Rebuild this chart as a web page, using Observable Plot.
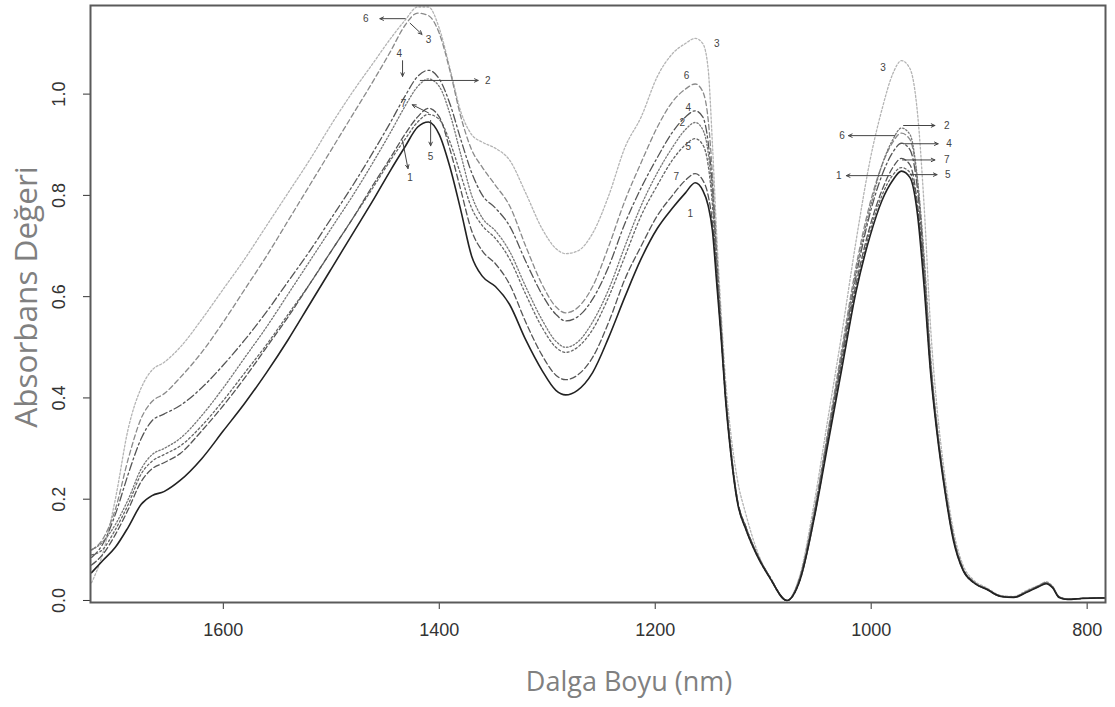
<!DOCTYPE html>
<html><head><meta charset="utf-8">
<script src="https://cdn.jsdelivr.net/npm/d3@7"></script>
<script src="https://cdn.jsdelivr.net/npm/@observablehq/plot@0.6"></script>
<style>
html,body{margin:0;padding:0;background:#fff;}
#chart{width:1115px;height:707px;overflow:hidden}
</style></head><body><div id="chart"></div>
<script>
// Wavelength grid (nm)
const wavelength = [
1722,1712,1700,1688,1676,1666,1655,1640,1620,1600,
1580,1560,1540,1520,1500,1480,1460,1445,1432,1420,
1410,1400,1390,1380,1370,1360,1348,1335,1320,1305,
1292,1283,1272,1258,1243,1228,1213,1198,1184,1172,
1163,1156,1151,1147,1143,1139,1135,1130,1124,1116,
1106,1094,1078,1066,1053,1040,1027,1014,1001,990,
980,972,964,957,951,945,939,932,924,915,
905,893,880,868,856,845,838,832,826,818,
805,790,783];

const series1 = [
0.055,0.078,0.105,0.145,0.19,0.207,0.215,0.237,0.28,0.335,
0.39,0.45,0.515,0.585,0.655,0.725,0.795,0.85,0.895,0.935,
0.945,0.92,0.855,0.77,0.68,0.64,0.62,0.585,0.515,0.455,
0.415,0.406,0.415,0.45,0.52,0.60,0.675,0.735,0.775,0.805,
0.825,0.81,0.78,0.73,0.625,0.52,0.40,0.29,0.195,0.14,
0.09,0.045,0.0,0.04,0.16,0.31,0.46,0.61,0.72,0.79,
0.83,0.848,0.835,0.76,0.62,0.45,0.33,0.22,0.12,0.06,
0.035,0.022,0.008,0.006,0.016,0.027,0.033,0.025,0.006,0.002,
0.004,0.005,0.005];

const series2 = [
0.10,0.115,0.15,0.20,0.26,0.288,0.30,0.32,0.365,0.42,
0.48,0.54,0.605,0.67,0.735,0.80,0.87,0.925,0.975,1.015,
1.03,1.015,0.96,0.88,0.80,0.755,0.73,0.69,0.62,0.555,
0.512,0.50,0.51,0.55,0.615,0.70,0.78,0.845,0.895,0.93,
0.944,0.93,0.885,0.80,0.66,0.535,0.41,0.30,0.20,0.145,
0.093,0.047,0.0,0.045,0.17,0.33,0.49,0.65,0.775,0.86,
0.91,0.933,0.92,0.83,0.68,0.48,0.345,0.23,0.128,0.063,
0.037,0.023,0.009,0.007,0.018,0.029,0.035,0.027,0.007,0.003,
0.004,0.005,0.005];

const series3 = [
0.035,0.09,0.20,0.34,0.42,0.455,0.47,0.50,0.555,0.615,
0.675,0.74,0.805,0.87,0.94,1.005,1.065,1.11,1.145,1.172,
1.172,1.13,1.05,0.965,0.92,0.905,0.893,0.87,0.805,0.735,
0.695,0.685,0.69,0.725,0.80,0.895,0.955,1.035,1.08,1.10,
1.11,1.10,1.05,0.90,0.72,0.57,0.44,0.33,0.24,0.17,
0.10,0.045,0.0,0.05,0.19,0.36,0.53,0.71,0.87,0.97,
1.04,1.066,1.05,0.96,0.78,0.54,0.38,0.25,0.14,0.07,
0.04,0.025,0.01,0.008,0.02,0.03,0.037,0.028,0.008,0.003,
0.004,0.005,0.005];

const series4 = [
0.085,0.11,0.17,0.25,0.32,0.355,0.368,0.385,0.42,0.465,
0.515,0.57,0.63,0.69,0.755,0.82,0.89,0.945,0.995,1.035,
1.047,1.03,0.98,0.91,0.845,0.80,0.775,0.74,0.67,0.605,
0.565,0.552,0.56,0.595,0.66,0.745,0.815,0.875,0.925,0.955,
0.967,0.955,0.905,0.815,0.67,0.54,0.41,0.30,0.20,0.145,
0.093,0.047,0.0,0.044,0.168,0.325,0.485,0.64,0.765,0.84,
0.885,0.903,0.89,0.81,0.66,0.47,0.34,0.228,0.126,0.062,
0.036,0.022,0.008,0.007,0.017,0.028,0.034,0.026,0.007,0.003,
0.004,0.005,0.005];

const series5 = [
0.09,0.10,0.14,0.19,0.25,0.275,0.288,0.305,0.345,0.395,
0.45,0.505,0.565,0.625,0.69,0.755,0.82,0.87,0.91,0.945,
0.96,0.95,0.905,0.84,0.775,0.74,0.715,0.675,0.605,0.54,
0.50,0.49,0.50,0.535,0.60,0.68,0.76,0.82,0.87,0.90,
0.912,0.90,0.86,0.78,0.645,0.525,0.405,0.29,0.195,0.14,
0.09,0.045,0.0,0.04,0.16,0.315,0.465,0.615,0.73,0.80,
0.84,0.855,0.845,0.77,0.63,0.455,0.335,0.222,0.122,0.06,
0.035,0.022,0.008,0.006,0.017,0.028,0.034,0.026,0.006,0.002,
0.004,0.005,0.005];

const series6 = [
0.10,0.12,0.18,0.28,0.36,0.393,0.408,0.44,0.49,0.55,
0.615,0.68,0.75,0.82,0.89,0.96,1.03,1.085,1.135,1.16,
1.155,1.12,1.045,0.955,0.89,0.855,0.82,0.78,0.70,0.625,
0.58,0.568,0.578,0.62,0.70,0.79,0.865,0.935,0.985,1.01,
1.02,1.005,0.95,0.84,0.685,0.545,0.415,0.30,0.20,0.145,
0.093,0.047,0.0,0.047,0.175,0.335,0.50,0.66,0.785,0.86,
0.905,0.923,0.91,0.825,0.67,0.475,0.342,0.23,0.128,0.063,
0.037,0.023,0.009,0.007,0.018,0.029,0.035,0.027,0.007,0.003,
0.004,0.005,0.005];

const series7 = [
0.07,0.09,0.13,0.18,0.235,0.26,0.272,0.29,0.335,0.385,
0.44,0.50,0.56,0.625,0.69,0.755,0.825,0.875,0.92,0.955,
0.972,0.955,0.89,0.81,0.73,0.69,0.665,0.625,0.55,0.485,
0.445,0.436,0.445,0.48,0.55,0.635,0.70,0.76,0.80,0.83,
0.843,0.83,0.80,0.745,0.635,0.525,0.405,0.295,0.20,0.143,
0.092,0.046,0.0,0.042,0.165,0.32,0.475,0.625,0.74,0.81,
0.855,0.873,0.86,0.78,0.64,0.46,0.335,0.225,0.125,0.062,
0.036,0.022,0.008,0.007,0.017,0.028,0.034,0.026,0.007,0.002,
0.004,0.005,0.005];

const xTicks = [1600, 1400, 1200, 1000, 800];
const yTicks = [0, 0.2, 0.4, 0.6, 0.8, 1.0];
const xTitle = "Dalga Boyu (nm)";
const yTitle = "Absorbans Değeri";

// Curve labels (number, wavelength, absorbance)
const labelsPeak1 = [["6",1468,1.149],["3",1410,1.108],["4",1437,1.08],["2",1355,1.027],["7",1433,0.981],["5",1408,0.877],["1",1427,0.834]];
const labelsPeak2 = [["3",1143,1.10],["6",1171,1.037],["4",1169.5,0.973],["2",1175,0.944],["5",1169.5,0.896],["7",1180.5,0.837],["1",1167.6,0.764]];
const labelsPeak3 = [["3",989,1.052],["2",930,0.938],["6",1027,0.918],["4",928,0.902],["7",930,0.87],["5",929,0.841],["1",1030,0.839]];

// Arrows [w1, a1, w2, a2]
const arrowsPeak1 = [[1431.5,1.149,1455,1.149],[1427,1.14,1416,1.118],[1434,1.066,1434,1.035],[1417.6,1.027,1364,1.027],[1410,0.963,1425,0.979],[1408,0.948,1408,0.898],[1434,0.908,1429,0.853]];
const arrowsPeak3 = [[970,0.938,941,0.938],[978,0.918,1021,0.918],[970,0.902,938,0.902],[971,0.87,941,0.87],[964,0.841,939,0.841],[982,0.839,1023,0.839]];

const seriesStyle = [
  {key:"3", values:series3, stroke:"#b4b4b4", width:1.3, dash:"2,2"},
  {key:"6", values:series6, stroke:"#8a8a8a", width:1.3, dash:"5,3"},
  {key:"4", values:series4, stroke:"#555", width:1.3, dash:"8,3,2,3"},
  {key:"2", values:series2, stroke:"#777", width:1.3, dash:"1.5,2"},
  {key:"5", values:series5, stroke:"#666", width:1.3, dash:"2,2.5"},
  {key:"7", values:series7, stroke:"#555", width:1.3, dash:"6,3"},
  {key:"1", values:series1, stroke:"#222", width:1.6, dash:null}
];

const lineMarks = seriesStyle.map(s => {
  const rows = wavelength.map((w, i) => ({w, a: s.values[i]}));
  const opts = {x:"w", y:"a", stroke:s.stroke, strokeWidth:s.width, curve:"monotone-x", clip:true};
  if (s.dash) opts.strokeDasharray = s.dash;
  return Plot.line(rows, opts);
});

const labelRows = [...labelsPeak1, ...labelsPeak2, ...labelsPeak3].map(([t,w,a]) => ({t,w,a}));
const arrowRows = [...arrowsPeak1, ...arrowsPeak3].map(([w1,a1,w2,a2]) => ({w1,a1,w2,a2}));

const chart = Plot.plot({
  width: 1115, height: 707,
  marginLeft: 90, marginRight: 10, marginTop: 5, marginBottom: 105,
  style: {fontFamily: "'Liberation Sans', Arial, sans-serif", background: "#fff", color: "#333"},
  x: {domain: [1723, 783]},
  y: {domain: [-0.004, 1.175]},
  marks: [
    Plot.axisX({ticks: xTicks, tickSize: 7, tickPadding: 14, fontSize: 18, label: null, tickFormat: d => String(d)}),
    Plot.axisY({ticks: yTicks, tickSize: 7, tickPadding: 19, tickRotate: -90, fontSize: 18, label: null, tickFormat: d3.format(".1f")}),
    ...lineMarks,
    Plot.frame({stroke: "#5a5a5a", strokeWidth: 2}),
    Plot.arrow(arrowRows, {x1:"w1", y1:"a1", x2:"w2", y2:"a2", stroke:"#444", strokeWidth:1, headLength:6, headAngle:50}),
    Plot.text(labelRows, {x:"w", y:"a", text:"t", fontSize:10, fill:"#444"}),
    Plot.text([xTitle], {text: d => d, frameAnchor: "bottom", textAnchor: "middle", dx: 31, dy: 80, fontSize: 27, fontFamily: "'Open Sans', sans-serif", fill: "#808080", lineAnchor: "middle"}),
    Plot.text([yTitle], {text: d => d, frameAnchor: "left", textAnchor: "middle", dx: -64, dy: -7, rotate: -90, fontSize: 31.5, fontFamily: "'Open Sans', sans-serif", fill: "#808080", lineAnchor: "middle"})
  ]
});
document.getElementById("chart").appendChild(chart);
</script></body></html>
